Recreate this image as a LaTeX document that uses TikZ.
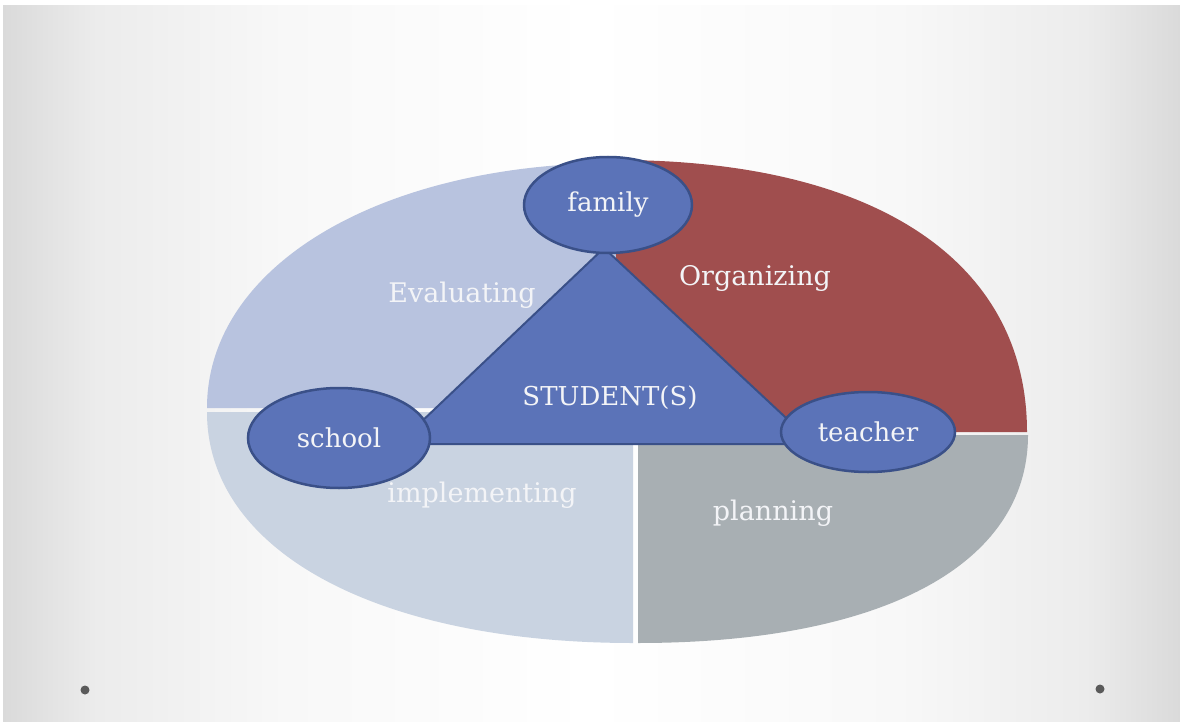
\documentclass[tikz,border=0pt]{standalone}
\usepackage{fontspec}
\setmainfont{DejaVu Serif}
\usetikzlibrary{shapes.geometric}

\definecolor{evalblue}{HTML}{B8C3DF}
\definecolor{orgred}{HTML}{A04E4E}
\definecolor{plangray}{HTML}{A8AFB3}
\definecolor{implblue}{HTML}{C9D3E1}
\definecolor{nodeblue}{HTML}{5B73B8}
\definecolor{edgeblue}{HTML}{3A5088}
\definecolor{textwhite}{HTML}{F3F4F7}
\definecolor{bgedge}{HTML}{DADADA}
\definecolor{bgmid}{HTML}{ECECEC}
\definecolor{bglight}{HTML}{F8F8F8}
\definecolor{dotgray}{HTML}{5A5A5A}

% slide background: grey at the sides, white in the middle
% (the path is mapped onto 25bp..75bp of the shading)
\pgfdeclarehorizontalshading{slidebg}{100bp}{color(0bp)=(bgedge); color(25bp)=(bgedge);
  color(29bp)=(bgmid); color(37bp)=(bglight); color(50bp)=(white);
  color(63bp)=(bglight); color(71bp)=(bgmid); color(75bp)=(bgedge); color(100bp)=(bgedge)}

\newcommand{\slidefont}{\fontsize{26}{30}\selectfont}
\newcommand{\phasefont}{\fontsize{27}{31}\selectfont}

\begin{document}
\begin{tikzpicture}[x=1pt,y=-1pt,
    actor/.style={ellipse, draw=edgeblue, line width=2.5pt, fill=nodeblue,
      text=textwhite, font=\slidefont, inner sep=0pt},
    phase/.style={text=textwhite, font=\phasefont, inner sep=0pt}]
  \useasboundingbox (0,0) rectangle (1180,722);
  \fill[white] (0,0) rectangle (1180,722);
  \shade[shading=slidebg] (3,6) rectangle (1180,722);

  % --- the four quarters (slightly squarer than true ellipse arcs) ---
  % Evaluating (top left)
  \fill[evalblue] (618,408) -- (207,408) .. controls (207,266) and (380,163) .. (618,163) -- cycle;
  % Organizing (top right)
  \fill[orgred] (616,432) -- (1027,432) .. controls (1027,261) and (875,160) .. (616,160) -- cycle;
  % planning (bottom right)
  \fill[plangray] (638,435) -- (1028,435) .. controls (1028,565) and (882,643) .. (638,643) -- cycle;
  % implementing (bottom left)
  \fill[implblue] (633,412) -- (207,412) .. controls (207,551) and (377,643) .. (633,643) -- cycle;

  % --- student triangle ---
  \coordinate (apex) at (604,248);
  \coordinate (lcorner) at (398,444);
  \coordinate (rcorner) at (814,444);
  \filldraw[fill=nodeblue, draw=edgeblue, line width=2pt, line join=round]
    (apex) -- (lcorner) -- (rcorner) -- cycle;
  \node[text=textwhite, font=\slidefont, inner sep=0pt] (student) at (610,398) {STUDENT(S)};

  % --- the three partners ---
  \node[actor, minimum width=168pt, minimum height=96pt] (family) at (608,205) {family};
  \node[actor, minimum width=182pt, minimum height=100pt] (school) at (339,438) {school};
  \node[actor, minimum width=174pt, minimum height=80pt] (teacher) at (868,432) {teacher};

  % quarter labels
  \node[phase] (evaluating) at (462,295) {Evaluating};
  \node[phase] (organizing) at (755,278) {Organizing};
  \node[phase] (implementing) at (482,495) {implementing};
  \node[phase] (planning) at (773,513) {planning};

  % bullets at the foot of the slide
  \fill[dotgray] (85,690) circle[radius=4.5pt];
  \fill[dotgray] (1100,689) circle[radius=4.5pt];
\end{tikzpicture}
\end{document}
